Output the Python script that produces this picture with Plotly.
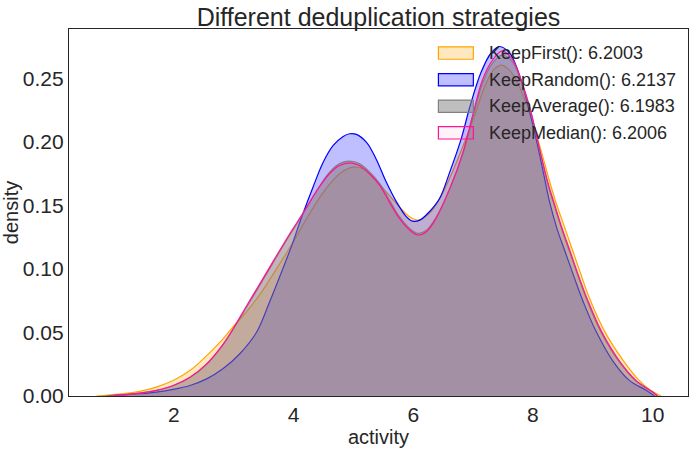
import plotly.graph_objects as go

# ---- data ----
first_x = [0.71, 1.16, 1.43, 1.71, 1.99, 2.27, 2.55, 2.82, 2.99, 3.21, 3.44, 3.66, 3.94, 4.22, 4.49, 4.77, 4.99,
           5.16, 5.33, 5.55, 5.77, 5.94, 6.08, 6.27, 6.45, 6.65, 6.85, 7.02, 7.18, 7.33, 7.47, 7.62, 7.78, 7.95,
           8.12, 8.26, 8.38, 8.52, 8.66, 8.80, 8.94, 9.19, 9.50, 9.77, 9.95, 10.14]
first_y = [0.0, 0.0018, 0.0037, 0.0070, 0.0122, 0.0200, 0.0318, 0.0448, 0.0545, 0.0660, 0.0800, 0.0960, 0.1170,
           0.1398, 0.1600, 0.1750, 0.1802, 0.1789, 0.1724, 0.1607, 0.1490, 0.1411, 0.1385, 0.1438, 0.1560, 0.1760,
           0.1990, 0.2200, 0.2420, 0.2560, 0.2605, 0.2560, 0.2430, 0.2220, 0.1960, 0.1720, 0.1530, 0.1340, 0.1150,
           0.0960, 0.0775, 0.0515, 0.0285, 0.0125, 0.0050, 0.0]

random_x = [0.89, 1.43, 1.71, 1.99, 2.27, 2.55, 2.82, 3.10, 3.38, 3.60, 3.82, 3.99, 4.13, 4.33, 4.49, 4.66, 4.83,
            4.94, 5.05, 5.22, 5.38, 5.55, 5.72, 5.88, 5.99, 6.11, 6.27, 6.44, 6.61, 6.80, 6.95, 7.13, 7.30, 7.44,
            7.61, 7.75, 7.91, 8.05, 8.16, 8.27, 8.40, 8.55, 8.70, 8.85, 9.05, 9.33, 9.61, 9.89, 10.03]
random_y = [0.0, 0.0018, 0.0031, 0.0052, 0.0083, 0.0135, 0.0214, 0.0331, 0.0500, 0.0740, 0.1000, 0.1210, 0.1400,
            0.1650, 0.1835, 0.1971, 0.2044, 0.2065, 0.2060, 0.1997, 0.1867, 0.1685, 0.1529, 0.1415, 0.1377, 0.1385,
            0.1451, 0.1555, 0.1763, 0.2023, 0.2284, 0.2545, 0.2701, 0.2752, 0.2701, 0.2560, 0.2300, 0.2030, 0.1790,
            0.1545, 0.1320, 0.1120, 0.0920, 0.0730, 0.0513, 0.0279, 0.0123, 0.0045, 0.0]

average_x = [0.85, 1.43, 1.71, 1.99, 2.27, 2.55, 2.82, 2.99, 3.21, 3.44, 3.66, 3.94, 4.16, 4.38, 4.60, 4.77, 4.94,
             5.10, 5.27, 5.44, 5.60, 5.77, 5.94, 6.08, 6.22, 6.38, 6.61, 6.83, 6.99, 7.16, 7.33, 7.48, 7.66, 7.80,
             7.97, 8.11, 8.25, 8.36, 8.48, 8.62, 8.76, 8.91, 9.14, 9.44, 9.72, 10.00, 10.08]
average_y = [0.0, 0.0022, 0.0044, 0.0081, 0.0145, 0.0250, 0.0402, 0.0525, 0.0695, 0.0875, 0.1050, 0.1270, 0.1435,
             0.1610, 0.1760, 0.1830, 0.1849, 0.1830, 0.1765, 0.1672, 0.1545, 0.1412, 0.1320, 0.1281, 0.1305, 0.1405,
             0.1630, 0.1905, 0.2185, 0.2465, 0.2625, 0.2685, 0.2630, 0.2480, 0.2225, 0.1940, 0.1665, 0.1495, 0.1315,
             0.1125, 0.0935, 0.0745, 0.0500, 0.0270, 0.0118, 0.0030, 0.0]

median_x = [0.93, 1.43, 1.71, 1.99, 2.27, 2.55, 2.82, 2.99, 3.21, 3.44, 3.66, 3.94, 4.16, 4.38, 4.60, 4.77, 4.94,
            5.10, 5.27, 5.44, 5.60, 5.77, 5.94, 6.08, 6.22, 6.38, 6.61, 6.83, 6.99, 7.16, 7.33, 7.48, 7.66, 7.80,
            7.97, 8.11, 8.25, 8.36, 8.48, 8.62, 8.76, 8.91, 9.14, 9.44, 9.72, 10.00, 10.08]
median_y = [0.0, 0.0023, 0.0045, 0.0083, 0.0148, 0.0253, 0.0405, 0.0528, 0.0705, 0.0885, 0.1060, 0.1280, 0.1440,
            0.1610, 0.1750, 0.1815, 0.1836, 0.1815, 0.1750, 0.1659, 0.1529, 0.1398, 0.1307, 0.1268, 0.1294, 0.1398,
            0.1633, 0.1919, 0.2205, 0.2492, 0.2648, 0.2715, 0.2648, 0.2492, 0.2232, 0.1945, 0.1680, 0.1510, 0.1330,
            0.1140, 0.0950, 0.0760, 0.0513, 0.0279, 0.0123, 0.0031, 0.0]

names = ["KeepFirst(): 6.2003", "KeepRandom(): 6.2137", "KeepAverage(): 6.1983", "KeepMedian(): 6.2006"]
line_colors = ["#FFA500", "#0000FF", "#808080", "#FF1493"]
fill_colors = ["rgba(255,165,0,0.25)", "rgba(0,0,255,0.25)", "rgba(128,128,128,0.5)", "rgba(255,20,147,0.05)"]
y_ticks = [0.00, 0.05, 0.10, 0.15, 0.20, 0.25]
x_ticks = [2, 4, 6, 8, 10]

series = [(first_x, first_y), (random_x, random_y), (average_x, average_y), (median_x, median_y)]

fig = go.Figure()
for (xs, ys), name, lc, fc in zip(series, names, line_colors, fill_colors):
    fig.add_trace(go.Scatter(
        x=xs, y=ys, name=name, mode="lines", showlegend=False,
        line=dict(color=lc, width=1.2, shape="spline", smoothing=1.0),
        fill="tozeroy", fillcolor=fc,
    ))

FONT = "Liberation Sans, Arial, sans-serif"
TXT = "#262626"

# matplotlib-style legend: filled patches with a border, text to the right
L, R, T, B = 69, 689, 29, 399
W, H = R - L, B - T
row0, row_step = 53.3, 26.8
for i, (name, lc, fc) in enumerate(zip(names, line_colors, fill_colors)):
    cy = row0 + row_step * i
    fig.add_shape(type="rect", xref="paper", yref="paper", layer="above",
                  x0=(439 - L) / W, x1=(474 - L) / W,
                  y0=(B - cy - 6.2) / H, y1=(B - cy + 6.2) / H,
                  fillcolor=fc, line=dict(color=lc, width=1.2))
    fig.add_annotation(xref="paper", yref="paper", x=(488 - L) / W, y=(B - cy) / H,
                       xanchor="left", yanchor="middle", text=name, showarrow=False,
                       font=dict(size=18, color=TXT, family=FONT))

fig.update_layout(
    width=696, height=451,
    margin=dict(l=L, r=696 - R, t=T, b=451 - B),
    paper_bgcolor="white", plot_bgcolor="white",
    font=dict(family=FONT, size=20, color=TXT),
    title=dict(text="Different deduplication strategies", x=0.5, xanchor="center",
               xref="paper", y=1 - 17 / 451, yref="container", yanchor="middle",
               font=dict(size=25, color=TXT, family=FONT)),
    showlegend=False,
    xaxis=dict(range=[0.25, 10.59], tickvals=x_ticks, ticktext=[str(v) for v in x_ticks],
               showgrid=False, zeroline=False, showline=True, linecolor=TXT, linewidth=1.25,
               mirror=True, ticks="", tickfont=dict(size=21),
               title=dict(text="activity", font=dict(size=20), standoff=4)),
    yaxis=dict(range=[0, 0.289], tickvals=y_ticks, ticktext=[f"{v:.2f}" for v in y_ticks],
               showgrid=False, zeroline=False, showline=True, linecolor=TXT, linewidth=1.25,
               mirror=True, ticks="", tickfont=dict(size=21),
               title=dict(text="density", font=dict(size=20), standoff=2)),
)

fig.write_html("out.html", post_script="document.body.style.margin='0px';",
               config={"displayModeBar": False})
